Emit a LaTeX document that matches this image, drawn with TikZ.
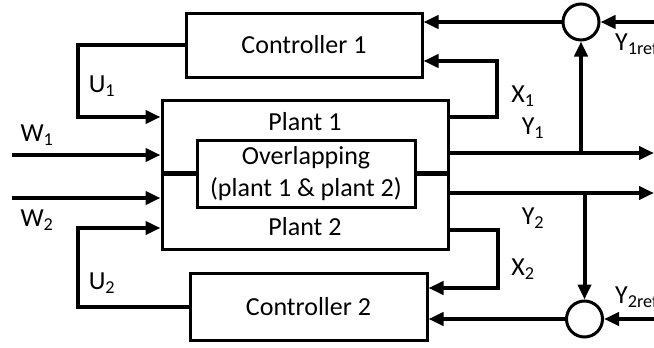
\documentclass[tikz,border=0pt]{standalone}
\usepackage{fontspec}
\setmainfont{Carlito}
\usepackage{tikz}
\usetikzlibrary{arrows.meta,positioning,shapes}

\tikzset{
  block/.style={draw,line width=3pt,rectangle,inner sep=0pt,font=\fontsize{26}{32}\selectfont},
  sumnode/.style={draw,line width=3pt,circle,minimum size=36pt,inner sep=0pt},
  sig/.style={line width=4pt,-{Triangle[length=15pt,width=13pt]}},
  link/.style={line width=4.5pt},
  lbl/.style={font=\fontsize{26}{32}\selectfont,inner sep=0pt}
}

\begin{document}
\begin{tikzpicture}[x=1pt,y=-1pt]
\useasboundingbox[fill=white](0,0) rectangle (654,348);
% blocks
\node[block,minimum width=236pt,minimum height=64pt](ctrlA) at (304,45){Controller 1};
\node[block,minimum width=286pt,minimum height=149pt](plant) at (305,174.5){};
\node[block,minimum width=218pt,minimum height=67pt,align=center](ovl) at (306,173.5){Overlapping\\(plant 1 \& plant 2)};
\node[block,minimum width=237pt,minimum height=67pt](ctrlB) at (308.5,306.5){Controller 2};
\node[lbl](txtA) at (305,122){Plant 1};
\node[lbl](txtB) at (305,227){Plant 2};
\node[sumnode](sumA) at (581,22){};
\node[sumnode](sumB) at (584.5,319){};
\draw[link](plant.west|-ovl)--(ovl.west);
\draw[link](ovl.east)--(plant.east|-ovl);
% inputs
\coordinate (wA) at (12,155);
\coordinate (wB) at (12,198);
\coordinate (uA) at (78,117);
\coordinate (uB) at (78,228);
\draw[sig](wA)--(wA-|plant.west);
\draw[sig](wB)--(wB-|plant.west);
\draw[sig](ctrlA.west)-|(uA)--(uA-|plant.west);
\draw[sig](ctrlB.west)-|(uB)--(uB-|plant.west);
% states
\coordinate (xA) at (497,117);
\coordinate (xAt) at (497,61);
\coordinate (xB) at (498,230);
\coordinate (xBb) at (498,288);
\draw[sig](plant.east|-xA)--(xA)--(xAt)--(xAt-|ctrlA.east);
\draw[sig](plant.east|-xB)--(xB)--(xBb)--(xBb-|ctrlB.east);
% outputs and references
\coordinate (yA) at (654,153);
\coordinate (yB) at (654,193);
\coordinate (rA) at (654,22);
\coordinate (rB) at (654,319);
\draw[sig](plant.east|-yA)--(yA);
\draw[sig](plant.east|-yB)--(yB);
\draw[sig](sumA|-yA)--(sumA.south);
\draw[sig](sumB|-yB)--(sumB.north);
\draw[sig](rA)--(sumA.east);
\draw[sig](rB)--(sumB.east);
\draw[sig](sumA.west)--(sumA.west-|ctrlA.east);
\draw[sig](sumB.west)--(sumB.west-|ctrlB.east);
% labels
\node[lbl](lUA) at (102,86){U\textsubscript{1}};
\node[lbl](lUB) at (102,283){U\textsubscript{2}};
\node[lbl](lWA) at (37,135){W\textsubscript{1}};
\node[lbl](lWB) at (37,220){W\textsubscript{2}};
\node[lbl](lXA) at (523,96){X\textsubscript{1}};
\node[lbl](lXB) at (523,269){X\textsubscript{2}};
\node[lbl](lYA) at (533,128){Y\textsubscript{1}};
\node[lbl](lYB) at (533,218){Y\textsubscript{2}};
\node[lbl,anchor=west](lRA) at (615,44){Y\textsubscript{1ref}};
\node[lbl,anchor=west](lRB) at (615,297){Y\textsubscript{2ref}};
\end{tikzpicture}
\end{document}
